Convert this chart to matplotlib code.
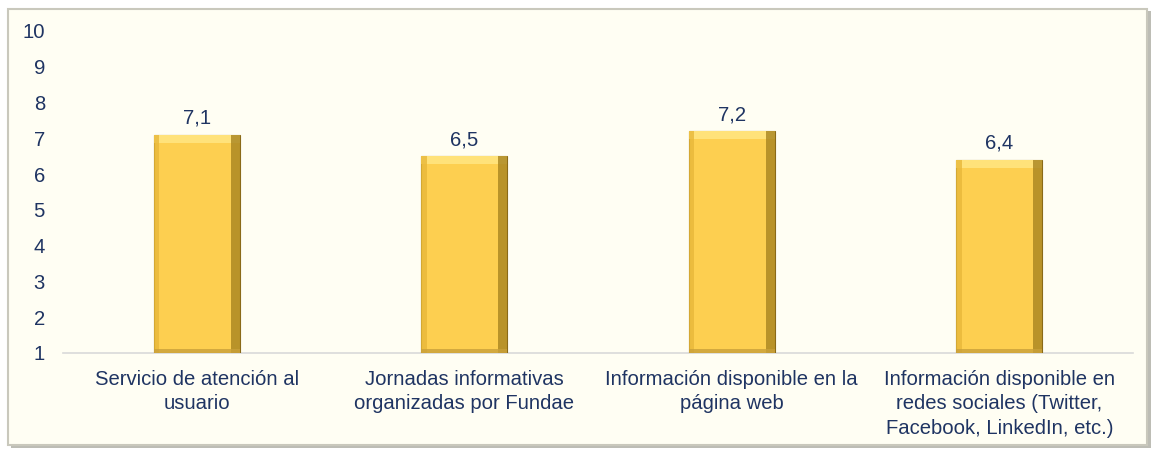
import matplotlib
matplotlib.use("Agg")
import matplotlib.pyplot as plt
from matplotlib.patches import Rectangle

categories = ["Servicio de atención al\nusuario",
              "Jornadas informativas\norganizadas por Fundae",
              "Información disponible en la\npágina web",
              "Información disponible en\nredes sociales (Twitter,\nFacebook, LinkedIn, etc.)"]
values = [7.1, 6.5, 7.2, 6.4]
value_labels = ["7,1", "6,5", "7,2", "6,4"]
yticks = [1, 2, 3, 4, 5, 6, 7, 8, 9, 10]

plt.rcParams['font.family'] = ['Liberation Sans', 'DejaVu Sans']
W, H = 1156, 449
FS = 14.6
TXT = '#1F3462'
fig = plt.figure(figsize=(W/100, H/100), dpi=100)
fig.patch.set_facecolor('white')

# frame with shadow
fig.patches.append(Rectangle((11/W, 1 - 448/H), 1140/W, 437/H, transform=fig.transFigure,
                             facecolor='#BDBDB5', edgecolor='none', zorder=-3))
fig.patches.append(Rectangle((8/W, 1 - 445/H), 1139/W, 436/H, transform=fig.transFigure,
                             facecolor='#FFFEF3', edgecolor='#C9C8BC', linewidth=1.5, zorder=-2))

ax = fig.add_axes([63/W, 1 - 353/H, (1133-63)/W, (353-31)/H])
ax.set_facecolor('none')
x = list(range(len(categories)))
bars = ax.bar(x, [v - 1 for v in values], bottom=1, width=0.32,
              color='#FDCF50', edgecolor='#8A6A18', linewidth=0.8, zorder=3)
# bevel highlights derived from bar geometry
for b in bars:
    bx, by, bw, bh = b.get_x(), b.get_y(), b.get_width(), b.get_height()
    ax.add_patch(Rectangle((bx, by + bh - 0.22), bw, 0.22, facecolor='#FFE27A', edgecolor='none', zorder=4))
    ax.add_patch(Rectangle((bx + bw * 0.9, by), bw * 0.1, bh, facecolor='#A88420', edgecolor='none', zorder=4, alpha=0.8))
    ax.add_patch(Rectangle((bx, by), bw * 0.06, bh, facecolor='#E8B83A', edgecolor='none', zorder=4, alpha=0.8))
    ax.add_patch(Rectangle((bx, by), bw, 0.12, facecolor='#C9A03A', edgecolor='none', zorder=4, alpha=0.8))

for xi, v, lab in zip(x, values, value_labels):
    ax.text(xi, v + 0.2, lab, ha='center', va='bottom', fontsize=FS, color=TXT)

ax.set_xlim(-0.5, len(categories) - 0.5)
ax.set_ylim(1, 10)
ax.set_yticks(yticks)
ax.set_yticklabels([str(t) for t in yticks], fontsize=FS, color=TXT)
ax.set_xticks(x)
ax.set_xticklabels(categories, fontsize=FS, color=TXT, linespacing=1.38)
ax.tick_params(axis='both', length=0)
ax.tick_params(axis='y', pad=13)
ax.tick_params(axis='x', pad=12)
for s in ['top', 'right', 'left']:
    ax.spines[s].set_visible(False)
ax.spines['bottom'].set_color('#D9D9D9')
ax.spines['bottom'].set_linewidth(1.2)

fig.savefig('out.png', dpi=100)
